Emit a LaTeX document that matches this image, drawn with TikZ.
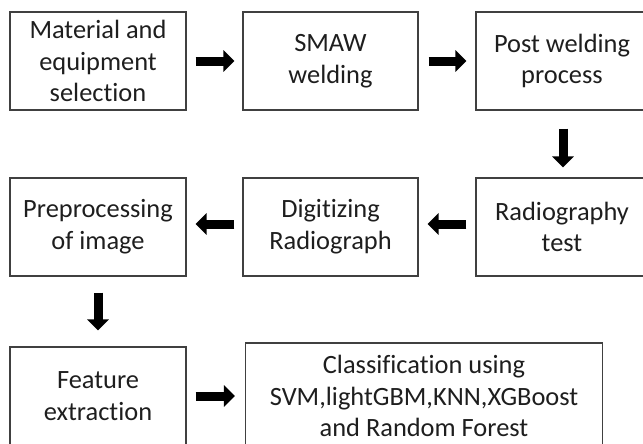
\documentclass[tikz,border=0pt]{standalone}
\usepackage{fontspec}
\setmainfont{Carlito}[Ligatures={NoCommon}]
\usetikzlibrary{arrows.meta}

\definecolor{boxline}{HTML}{404040}
\definecolor{boxtext}{HTML}{1E1E1E}

\tikzset{
    procbox/.style={draw=boxline, line width=0.8pt, rectangle, align=center,
        text=boxtext, inner sep=0pt, minimum height=98\px,
        font=\fontsize{19.8pt}{23.8pt}\selectfont},
    flowarrow/.style={line width=9\px, black,
        -{Triangle[length=11\px, width=21\px]}}
}

\begin{document}
\begin{tikzpicture}[x=0.75pt, y=-0.75pt]
    \def\px{*0.75pt}

    \clip (0,0) rectangle (643,443);

    % Row 1
    \node[procbox, minimum width=176\px] (Material) at (98,61) {Material and\\equipment\\selection};
    \node[procbox, minimum width=175\px] (Smaw) at (330.5,61) {SMAW\\welding};
    \node[procbox, minimum width=172\px] (PostWeld) at (562,61) {Post welding\\process};

    % Row 2
    \node[procbox, minimum width=172\px] (RadioTest) at (562,227) {Radiography\\test};
    \node[procbox, minimum width=175\px] (Digitize) at (330.5,227) {Digitizing\\Radiograph};
    \node[procbox, minimum width=176\px] (Preproc) at (98,227) {Preprocessing\\of image};

    % Row 3
    \node[procbox, minimum width=176\px] (Feature) at (98,396) {Feature\\extraction};
    \node[procbox, minimum width=357\px, minimum height=106\px] (Classify) at (424,396)
        {Classification using\\SVM,lightGBM,KNN,XGBoost\\and Random Forest};

    % Arrows
    \draw[flowarrow, shorten <=9\px, shorten >=8\px] (Material) -- (Smaw);
    \draw[flowarrow, shorten <=10\px, shorten >=9\px] (Smaw) -- (PostWeld);
    \draw[flowarrow, shorten <=18\px, shorten >=10\px] ([xshift=1\px]PostWeld.south) -- ([xshift=1\px]RadioTest.north);
    \draw[flowarrow, shorten <=9\px, shorten >=9\px] ([yshift=3\px]RadioTest.west) -- ([yshift=3\px]Digitize.east);
    \draw[flowarrow, shorten <=8\px, shorten >=9\px] ([yshift=3\px]Digitize.west) -- ([yshift=3\px]Preproc.east);
    \draw[flowarrow, shorten <=16\px, shorten >=16\px] (Preproc) -- (Feature);
    \draw[flowarrow, shorten <=9\px, shorten >=10\px] (Feature) -- (Classify);

\end{tikzpicture}
\end{document}
